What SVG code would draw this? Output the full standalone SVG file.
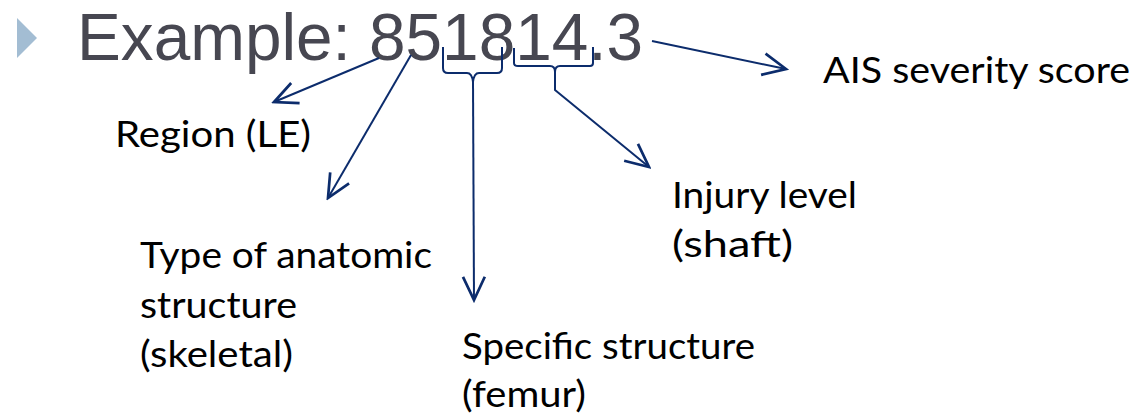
<svg xmlns="http://www.w3.org/2000/svg" width="1141" height="418" viewBox="0 0 1141 418">
<style>
.title{font-family:"Liberation Sans",Arial,sans-serif;font-size:66px;fill:#474751}
.lbl{font-family:Lato,"Open Sans","Liberation Sans",sans-serif;font-size:37px;fill:#000}
.conn{fill:none;stroke:#0c2c6c;stroke-width:2;stroke-linejoin:round}
</style>
<defs>
<marker id="arr" markerUnits="userSpaceOnUse" markerWidth="30" markerHeight="30" viewBox="-20 -10 22 20" refX="0" refY="0" orient="auto">
<path d="M-17,-8 L0,0 L-17,8" fill="none" stroke="#0c2c6c" stroke-width="2"/>
</marker>
</defs>
<rect width="1141" height="418" fill="#fff"/>
<g id="title">
<polygon points="17,18 37,38 17,58" fill="#a3bdd3"/>
<text class="title" x="77" y="60" textLength="566" lengthAdjust="spacingAndGlyphs">Example: 851814.3</text>
</g>
<g id="connectors">
<path class="conn" d="M379,58 L274,102" marker-end="url(#arr)"/>
<path class="conn" d="M411,55 L328,198" marker-end="url(#arr)"/>
<path class="conn" d="M443,47 L443,68 Q443,73 448,73 L467,73 Q472,73 473,82 Q474,73 479,73 L497,73 Q502,73 502,68 L502,47"/>
<path class="conn" d="M473,82 L474,300" marker-end="url(#arr)"/>
<path class="conn" d="M514,48 L514,63 Q514,66 518,66 L550,66 Q555,66 555,72 Q555,66 560,66 L590,66 Q593,66 593,63 L593,47"/>
<path class="conn" d="M555,72 L555,90 L649,167" marker-end="url(#arr)"/>
<path class="conn" d="M652,41 L786,69" marker-end="url(#arr)"/>
</g>
<g id="region"><text class="lbl" x="115" y="147" textLength="196" lengthAdjust="spacingAndGlyphs">Region (LE)</text></g>
<g id="type">
<text class="lbl" x="140" y="268" textLength="292" lengthAdjust="spacingAndGlyphs">Type of anatomic</text>
<text class="lbl" x="140" y="318" textLength="157" lengthAdjust="spacingAndGlyphs">structure</text>
<text class="lbl" x="140" y="367" textLength="153" lengthAdjust="spacingAndGlyphs">(skeletal)</text>
</g>
<g id="specific">
<text class="lbl" x="462" y="359" textLength="293" lengthAdjust="spacingAndGlyphs">Specific structure</text>
<text class="lbl" x="462" y="407" textLength="124" lengthAdjust="spacingAndGlyphs">(femur)</text>
</g>
<g id="injury">
<text class="lbl" x="672" y="208" textLength="185" lengthAdjust="spacingAndGlyphs">Injury level</text>
<text class="lbl" x="672" y="257" textLength="121" lengthAdjust="spacingAndGlyphs">(shaft)</text>
</g>
<g id="ais"><text class="lbl" x="823" y="83" textLength="307" lengthAdjust="spacingAndGlyphs">AIS severity score</text></g>
</svg>
